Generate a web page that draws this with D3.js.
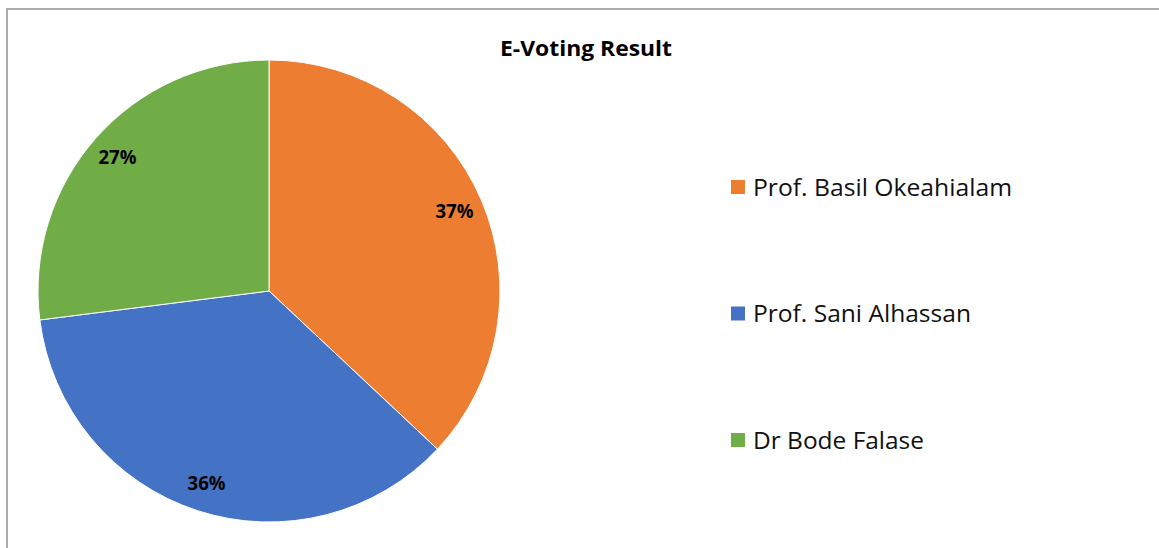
<!DOCTYPE html>
<html>
<head>
<meta charset="utf-8">
<script src="https://cdn.jsdelivr.net/npm/d3@7"></script>
<style>
  html, body { margin: 0; padding: 0; background: #fff; }
  svg { display: block; }
</style>
</head>
<body>
<svg id="chart" width="1159" height="548"></svg>
<script>
const title = "E-Voting Result";
const candidates = ["Prof. Basil Okeahialam", "Prof. Sani Alhassan", "Dr Bode Falase"];
const shares = [37, 36, 27];
const colors = ["#ED7D31", "#4472C4", "#70AD47"];

const svg = d3.select("#chart");
const W = 1159, H = 548;
const font = "'Open Sans', 'Noto Sans', sans-serif";

// frame
svg.append("rect")
  .attr("x", 7).attr("y", 9)
  .attr("width", W + 20).attr("height", H + 20)
  .attr("fill", "#fff").attr("stroke", "#ababab").attr("stroke-width", 2);

// title
svg.append("text")
  .attr("x", 586).attr("y", 56)
  .attr("text-anchor", "middle")
  .attr("font-family", font).attr("font-weight", 700).attr("font-size", 22)
  .attr("fill", "#000")
  .attr("textLength", 172).attr("lengthAdjust", "spacingAndGlyphs")
  .text(title);

// pie
const cx = 269, cy = 291, R = 231;
const data = candidates.map((c, i) => ({ name: c, value: shares[i], color: colors[i] }));
const pie = d3.pie().value(d => d.value).sort(null);
const arcs = pie(data);
const arc = d3.arc().innerRadius(0).outerRadius(R);
const labelArc = d3.arc().innerRadius(202).outerRadius(202);

const g = svg.append("g").attr("transform", `translate(${cx},${cy})`);
g.selectAll("path.slice").data(arcs).join("path")
  .attr("class", "slice")
  .attr("d", arc)
  .attr("fill", d => d.data.color)
  .attr("stroke", "#fff").attr("stroke-width", 1);

g.selectAll("text.lbl").data(arcs).join("text")
  .attr("class", "lbl")
  .attr("transform", d => `translate(${labelArc.centroid(d)})`)
  .attr("text-anchor", "middle")
  .attr("dy", "0.36em")
  .attr("font-family", font).attr("font-weight", 700).attr("font-size", 19.5)
  .attr("fill", "#000")
  .attr("textLength", 38).attr("lengthAdjust", "spacingAndGlyphs")
  .text(d => d.data.value + "%");

// legend
const legendY = d3.scalePoint().domain(candidates).range([187, 440]);
const legendWidths = [259, 218, 171];
const lg = svg.append("g");
const items = lg.selectAll("g").data(data).join("g")
  .attr("transform", d => `translate(731,${legendY(d.name)})`);
items.append("rect")
  .attr("x", 0).attr("y", -7).attr("width", 14).attr("height", 14)
  .attr("fill", d => d.color);
items.append("text")
  .attr("x", 22).attr("y", 0).attr("dy", "0.36em")
  .attr("font-family", font).attr("font-size", 24.5)
  .attr("fill", "#111")
  .attr("textLength", (d, i) => legendWidths[i]).attr("lengthAdjust", "spacingAndGlyphs")
  .text(d => d.name);
</script>
</body>
</html>
